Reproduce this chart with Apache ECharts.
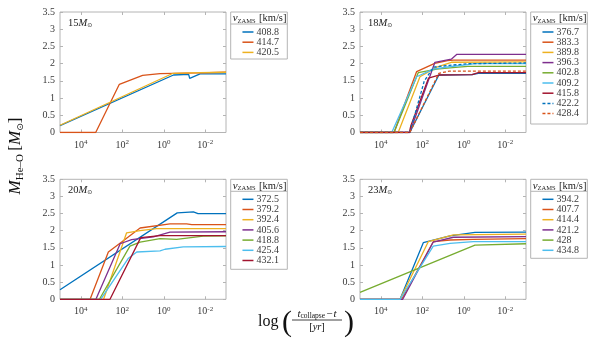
<!DOCTYPE html>
<html>
<head>
<meta charset="utf-8">
<script src="https://cdn.jsdelivr.net/npm/echarts@6/dist/echarts.min.js"></script>
<style>
html,body{margin:0;padding:0;background:#fff;}
#main{width:598px;height:338px;}
</style>
</head>
<body>
<div id="main"></div>
<script>
// x: log10(t_collapse - t) [yr], axis reversed; y: M_He-O [Msun]
var masses = ['15', '18', '20', '23'];
var colors = ['#0072BD', '#D95319', '#EDB120', '#7E2F8E', '#77AC30', '#4DBEEE', '#A2142F', '#0072BD', '#D95319'];
var xTicks = [4, 2, 0, -2];

var names15 = ['408.8', '414.7', '420.5'];
var lines15 = [
  [[5,0.2],[-0.47,1.67],[-1.2,1.69],[-1.25,1.57],[-1.75,1.7],[-3,1.7]],
  [[5,0],[3.28,0],[2.14,1.4],[1.02,1.66],[0.18,1.71],[-1.75,1.73],[-3,1.75]],
  [[5,0.21],[-0.45,1.72],[-1.75,1.74],[-3,1.75]]
];

var names18 = ['376.7', '383.3', '389.8', '396.3', '402.8', '409.2', '415.8', '422.2', '428.4'];
var lines18 = [
  [[5,0],[2.6,0],[1.2,1.67],[-0.4,1.68],[-0.7,1.72],[-3,1.72]],
  [[5,0],[3.36,0],[2.27,1.77],[1.4,2.01],[0.78,2.09],[0.5,2.1],[-3,2.1]],
  [[5,0],[3.16,0],[2.11,1.62],[1.3,1.9],[0.6,2.04],[-3,2.05]],
  [[5,0],[2.6,0],[1.39,2.04],[0.6,2.13],[0.33,2.27],[-3,2.27]],
  [[5,0],[3.36,0],[2.19,1.74],[1.3,1.84],[0.4,1.89],[-0.2,1.92],[-3,1.92]],
  [[5,0],[3.47,0],[2.27,1.62],[1.47,1.84],[0.7,1.91],[-0.3,1.98],[-0.5,2.0],[-3,2.0]],
  [[5,0],[2.62,0],[2.55,0.2],[1.7,1.58],[1.2,1.67],[-0.4,1.68],[-0.7,1.74],[-3,1.74]],
  [[5,0],[2.6,0],[1.9,1.5],[1.45,1.9],[0.7,1.95],[-0.3,2.0],[-3,2.02]],
  [[5,0],[2.6,0],[1.2,1.72],[0.7,1.78],[-3,1.78]]
];

var names20 = ['372.5', '379.2', '392.4', '405.6', '418.8', '425.4', '432.1'];
var lines20 = [
  [[5,0.28],[-0.65,2.52],[-1.43,2.55],[-1.65,2.5],[-3,2.5]],
  [[5,0],[3.55,0],[2.67,1.38],[2.03,1.67],[1.14,2.08],[-0.3,2.2],[-1.1,2.2],[-1.35,2.18],[-3,2.18]],
  [[5,0],[2.9,0],[1.79,1.94],[1.14,2.0],[0.34,2.06],[-3,2.06]],
  [[5,0],[3.27,0],[2.1,1.62],[1.55,1.74],[0.5,1.82],[-0.3,1.96],[-3,1.97]],
  [[5,0],[3.1,0],[1.63,1.55],[1.14,1.67],[0.18,1.77],[-0.62,1.75],[-1.9,1.84],[-3,1.85]],
  [[5,0],[3.04,0],[1.7,1.2],[1.3,1.38],[0.18,1.41],[-0.06,1.46],[-0.94,1.53],[-3,1.54]],
  [[5,0],[2.59,0],[1.11,1.8],[0.18,1.86],[-3,1.86]]
];

var names23 = ['394.2', '407.7', '414.4', '421.2', '428', '434.8'];
var lines23 = [
  [[5,0],[3.07,0],[1.95,1.65],[0.66,1.85],[-0.54,1.95],[-3,1.96]],
  [[5,0],[2.99,0],[1.47,1.68],[0.66,1.73],[-0.46,1.75],[-3,1.77]],
  [[5,0],[3.07,0],[1.71,1.68],[0.5,1.88],[-3,1.9]],
  [[5,0],[2.94,0],[1.47,1.67],[0.5,1.81],[-3,1.83]],
  [[5,0.2],[-0.54,1.58],[-3,1.62]],
  [[5,0],[3.07,0],[1.47,1.55],[0.66,1.63],[-0.46,1.68],[-3,1.68]]
];

var allNames = [names15, names18, names20, names23];
var allLines = [lines15, lines18, lines20, lines23];

var serif = 'Liberation Serif';
var boxColor = '#b4b4b4';
var txtColor = '#3a3a3a';

// panel positions
var pos = [
  {left: 60, top: 12, h: 120.5, legH: 47},
  {left: 360, top: 12, h: 120.5, legH: 112},
  {left: 60, top: 179.3, h: 120, legH: 90},
  {left: 360, top: 179.3, h: 120, legH: 79}
];

var grids = [], xAxes = [], yAxes = [], series = [], legends = [], graphics = [];

pos.forEach(function (p, i) {
  grids.push({left: p.left, top: p.top, width: 166, height: p.h, show: true,
    borderColor: boxColor, borderWidth: 1, backgroundColor: '#fff'});
});

function xAxisFor(i, top) {
  return {
    type: 'value', gridIndex: i, min: -3, max: 5, inverse: true,
    position: top ? 'top' : 'bottom',
    axisLine: {show: false, onZero: false},
    splitLine: {show: false},
    axisTick: {show: true, inside: true, length: 3, customValues: xTicks,
      lineStyle: {color: boxColor}},
    axisLabel: {
      show: !top, customValues: xTicks, margin: 6,
      formatter: function (v) { return '{b|10}{s|' + v + '}'; },
      rich: {
        b: {fontFamily: serif, fontSize: 10, color: txtColor},
        s: {fontFamily: serif, fontSize: 7, color: txtColor, verticalAlign: 'top', padding: [0, 0, 6, 0]}
      }
    }
  };
}
function yAxisFor(i, right) {
  return {
    type: 'value', gridIndex: i, min: 0, max: 3.5, interval: 0.5,
    position: right ? 'right' : 'left',
    axisLine: {show: false, onZero: false},
    splitLine: {show: false},
    axisTick: {show: true, inside: true, length: 3, lineStyle: {color: boxColor}},
    axisLabel: {show: !right, margin: 5, fontFamily: serif, fontSize: 10, color: txtColor}
  };
}
for (var i = 0; i < 4; i++) { xAxes.push(xAxisFor(i, false)); yAxes.push(yAxisFor(i, false)); }
for (var i = 0; i < 4; i++) { xAxes.push(xAxisFor(i, true)); yAxes.push(yAxisFor(i, true)); }

allNames.forEach(function (names, i) {
  names.forEach(function (n, k) {
    series.push({
      name: n, type: 'line', xAxisIndex: i, yAxisIndex: i,
      data: allLines[i][k], symbol: 'none', animation: false,
      color: colors[k],
      lineStyle: {width: 1.3, color: colors[k], type: k >= 7 ? [3, 2] : 'solid'},
      z: 3
    });
  });
  var p = pos[i];
  var lx = p.left + 170.7;
  legends.push({
    data: names, orient: 'vertical', left: lx + 11, top: p.top + 15,
    itemWidth: 11, itemHeight: 10, itemGap: 0.2, padding: 0,
    selectedMode: false,
    itemStyle: {opacity: 0},
    lineStyle: {width: 1.5},
    textStyle: {fontFamily: serif, fontSize: 10, color: txtColor, lineHeight: 10, padding: [0, 0, 0, -2]}
  });
  // legend box, header, separator
  graphics.push({type: 'rect', shape: {x: lx, y: p.top, width: 56.6, height: p.legH},
    style: {fill: '#fff', stroke: boxColor, lineWidth: 1}, z: 0, silent: true});
  graphics.push({type: 'line', shape: {x1: lx, y1: p.top + 12, x2: lx + 56.6, y2: p.top + 12},
    style: {stroke: boxColor, lineWidth: 1}, z: 1, silent: true});
  graphics.push({type: 'text', x: lx + 2, y: p.top + 6.5, z: 2, silent: true,
    style: {text: '{v|v}{s|ZAMS} {n|[km/s]}', verticalAlign: 'middle',
      rich: {
        v: {fontFamily: serif, fontStyle: 'italic', fontSize: 11, fill: '#222'},
        s: {fontFamily: serif, fontSize: 6.5, fill: '#222', verticalAlign: 'bottom', padding: [4, 0, 0, 0]},
        n: {fontFamily: serif, fontSize: 10.5, fill: '#222'}
      }}});
  // mass label
  graphics.push({type: 'text', x: p.left + 8, y: p.top + 11, z: 5, silent: true,
    style: {text: '{n|' + masses[i] + '}{m|M}{s|\u2299}', verticalAlign: 'middle',
      rich: {
        n: {fontFamily: serif, fontSize: 10.5, fill: '#222'},
        m: {fontFamily: serif, fontStyle: 'italic', fontSize: 10.5, fill: '#222'},
        s: {fontFamily: 'DejaVu Sans', fontSize: 6, fill: '#222', verticalAlign: 'bottom', padding: [4, 0, 0, 0]}
      }}});
});

// y axis title
graphics.push({type: 'text', x: 16, y: 156, rotation: Math.PI / 2, z: 5, silent: true,
  style: {text: '{m|M}{s|He\u2013O} {n|[}{m|M}{o|\u2299}{n|]}', align: 'center', verticalAlign: 'middle',
    rich: {
      m: {fontFamily: serif, fontStyle: 'italic', fontSize: 17, fill: '#111'},
      s: {fontFamily: serif, fontSize: 11, fill: '#111', verticalAlign: 'bottom', padding: [8, 0, 0, 0]},
      n: {fontFamily: serif, fontSize: 17, fill: '#111'},
      o: {fontFamily: 'DejaVu Sans', fontSize: 9, fill: '#111', verticalAlign: 'bottom', padding: [8, 0, 0, 0]}
    }}});

// x axis title: log( (t_collapse - t) / [yr] )
graphics.push({type: 'group', silent: true, z: 5, children: [
  {type: 'text', x: 258, y: 322, style: {text: 'log', fontFamily: serif, fontSize: 16, fill: '#111', verticalAlign: 'middle'}},
  {type: 'text', x: 282, y: 323, style: {text: '(', fontFamily: serif, fontSize: 30, fill: '#111', verticalAlign: 'middle'}},
  {type: 'text', x: 317, y: 314.5, style: {text: '{t|t}{s|collapse}{t|\u2212}{t|t}', align: 'center', verticalAlign: 'middle',
    rich: {
      t: {fontFamily: serif, fontStyle: 'italic', fontSize: 11, fill: '#111'},
      s: {fontFamily: serif, fontSize: 7.5, fill: '#111', verticalAlign: 'bottom', padding: [4, 1, 0, 0]}
    }}},
  {type: 'line', shape: {x1: 292, y1: 320, x2: 342, y2: 320}, style: {stroke: '#111', lineWidth: 0.8}},
  {type: 'text', x: 317, y: 327, style: {text: '{n|[}{t|yr}{n|]}', align: 'center', verticalAlign: 'middle',
    rich: {
      t: {fontFamily: serif, fontStyle: 'italic', fontSize: 10.5, fill: '#111'},
      n: {fontFamily: serif, fontSize: 10.5, fill: '#111'}
    }}},
  {type: 'text', x: 344, y: 323, style: {text: ')', fontFamily: serif, fontSize: 30, fill: '#111', verticalAlign: 'middle'}}
]});

var chart = echarts.init(document.getElementById('main'));
chart.setOption({
  animation: false,
  backgroundColor: '#fff',
  grid: grids,
  xAxis: xAxes,
  yAxis: yAxes,
  legend: legends,
  series: series,
  graphic: graphics
});
</script>
</body>
</html>
